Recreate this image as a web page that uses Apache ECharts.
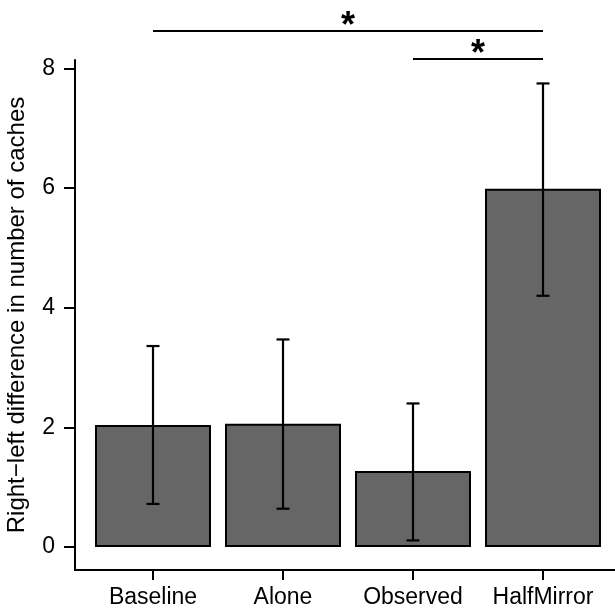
<!DOCTYPE html>
<html>
<head>
<meta charset="utf-8">
<script src="https://cdn.jsdelivr.net/npm/echarts@6/dist/echarts.min.js"></script>
<style>
  html, body { margin: 0; padding: 0; background: #fff; }
  #chart { width: 615px; height: 613px; }
</style>
</head>
<body>
<div id="chart"></div>
<script>
// categories and values
const categories = ['Baseline', 'Alone', 'Observed', 'HalfMirror']
const means = [2.04, 2.06, 1.27, 5.99]
const lower = [0.72, 0.64, 0.11, 4.20]
const upper = [3.36, 3.47, 2.40, 7.75]
const yTicks = [0, 2, 4, 6, 8]
// significance brackets: [from category, to category, height]
const brackets = [[1, 4, 8.627], [3, 4, 8.159]]
const bracketLabels = ['*', '*']

const FONT = 'Liberation Sans'

const chart = echarts.init(document.getElementById('chart'))

const barData = means.map((v, i) => [i + 1, v])
const errData = means.map((v, i) => [i + 1, lower[i], upper[i]])
const sigData = brackets.map((b, i) => [b[0], b[1], b[2], bracketLabels[i]])

const option = {
  animation: false,
  grid: { left: 75, right: 0, top: 60, bottom: 43, containLabel: false, outerBoundsMode: 'none' },
  xAxis: {
    type: 'value',
    min: 0.4,
    max: 4.5538,
    splitLine: { show: false },
    axisLine: { show: true, onZero: false, lineStyle: { color: '#000', width: 2 } },
    axisTick: { show: true, customValues: [1, 2, 3, 4], length: 10, lineStyle: { color: '#000', width: 2 } },
    axisLabel: {
      customValues: [1, 2, 3, 4],
      formatter: (v) => categories[Math.round(v) - 1],
      color: '#000',
      fontFamily: FONT,
      fontSize: 23,
      margin: 16
    }
  },
  yAxis: {
    type: 'value',
    min: -0.3845,
    max: 8.142,
    splitLine: { show: false },
    name: 'Right\u2212left difference in number of caches',
    nameLocation: 'middle',
    nameGap: 46,
    nameTextStyle: { color: '#000', fontFamily: FONT, fontSize: 24 },
    axisLine: { show: true, lineStyle: { color: '#000', width: 2 } },
    axisTick: { show: true, customValues: yTicks, length: 11, lineStyle: { color: '#000', width: 2 } },
    axisLabel: {
      customValues: yTicks,
      color: '#000',
      fontFamily: FONT,
      fontSize: 23,
      margin: 20
    }
  },
  series: [
    {
      type: 'bar',
      data: barData,
      barWidth: 116,
      itemStyle: { color: '#666666', borderColor: '#000', borderWidth: 2 }
    },
    {
      type: 'custom',
      data: errData,
      z: 5,
      renderItem: (params, api) => {
        const x = api.value(0)
        const lo = api.coord([x, api.value(1)])
        const hi = api.coord([x, api.value(2)])
        const w = 6.5
        const style = { stroke: '#000', lineWidth: 2.2 }
        return {
          type: 'group',
          children: [
            { type: 'line', shape: { x1: lo[0], y1: lo[1], x2: hi[0], y2: hi[1] }, style },
            { type: 'line', shape: { x1: hi[0] - w, y1: hi[1], x2: hi[0] + w, y2: hi[1] }, style },
            { type: 'line', shape: { x1: lo[0] - w, y1: lo[1], x2: lo[0] + w, y2: lo[1] }, style }
          ]
        }
      }
    },
    {
      type: 'custom',
      data: sigData,
      clip: false,
      z: 5,
      renderItem: (params, api) => {
        const a = api.coord([api.value(0), api.value(2)])
        const b = api.coord([api.value(1), api.value(2)])
        return {
          type: 'group',
          children: [
            { type: 'line', shape: { x1: a[0], y1: a[1], x2: b[0], y2: b[1] }, style: { stroke: '#000', lineWidth: 2.2 } },
            {
              type: 'text',
              x: (a[0] + b[0]) / 2,
              y: a[1] - 4,
              style: {
                text: sigData[params.dataIndex][3],
                fill: '#000',
                font: 'bold 36px "' + FONT + '"',
                align: 'center',
                verticalAlign: 'middle'
              }
            }
          ]
        }
      }
    }
  ]
}

chart.setOption(option)
</script>
</body>
</html>
